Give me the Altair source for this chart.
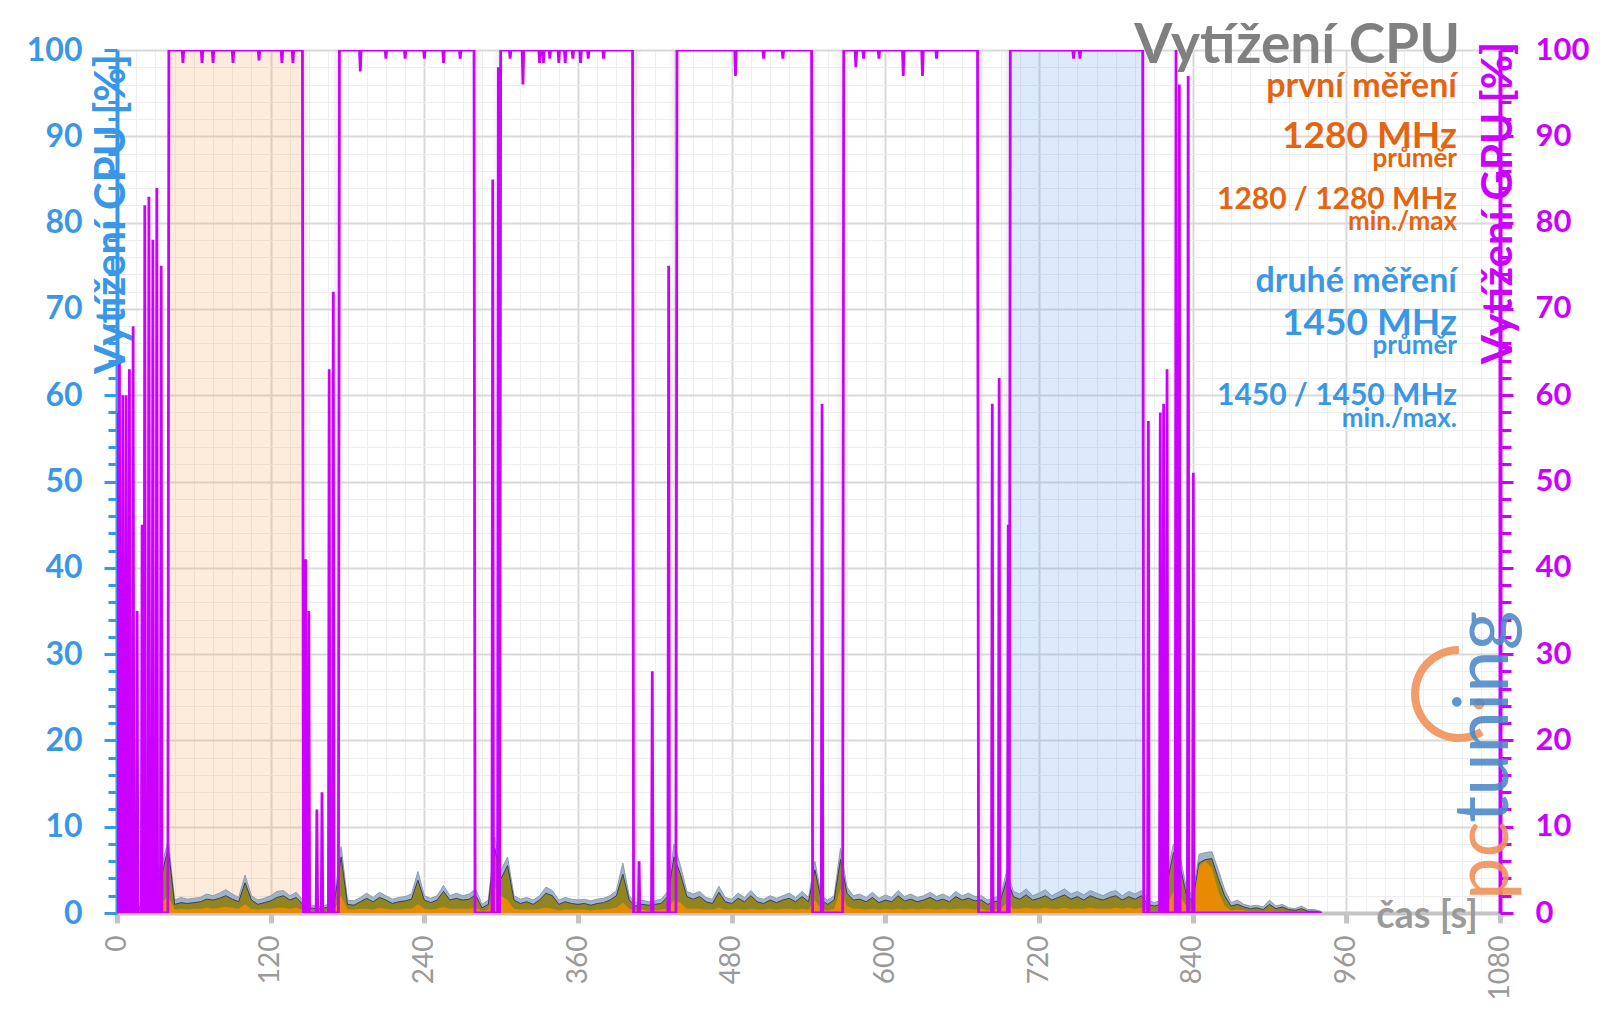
import altair as alt
import pandas as pd

# ---------------- data ----------------
# CPU load samples (every 5 s), three overlaid series
cpu_t = list(range(0, 941, 5))
cpu_top = [
    2.0, 1.5, 2.0, 1.0, 1.2, 1.5, 5.0, 5.5, 8.5, 1.5, 1.8, 1.6,
    1.7, 1.8, 2.2, 2.0, 2.3, 2.7, 2.2, 1.8, 4.4, 2.0, 1.5, 1.7,
    2.0, 2.5, 2.6, 2.0, 2.4, 1.5, 1.0, 0.8, 0.8, 1.0, 2.0, 7.7,
    1.5, 1.4, 1.8, 2.3, 1.8, 2.4, 2.0, 1.6, 1.8, 1.9, 2.2, 4.8,
    2.0, 1.7, 2.0, 3.2, 2.0, 2.3, 2.0, 2.2, 2.8, 1.0, 1.5, 8.8,
    5.0, 6.5, 2.0, 1.6, 1.8, 1.5, 2.0, 3.0, 2.6, 1.5, 1.8, 1.6,
    1.5, 1.6, 1.4, 1.6, 1.7, 2.0, 2.6, 5.8, 2.0, 1.2, 1.5, 1.3,
    1.4, 1.6, 2.5, 8.0, 5.5, 2.5, 2.2, 2.5, 1.8, 1.6, 3.1, 1.8,
    1.6, 2.3, 1.8, 2.6, 1.8, 1.6, 2.0, 1.7, 2.0, 2.3, 1.8, 2.5,
    1.8, 6.0, 2.0, 1.5, 2.0, 7.5, 3.0, 2.0, 2.2, 1.8, 2.4, 1.7,
    2.1, 1.8, 2.6, 1.9, 2.2, 1.8, 2.0, 2.4, 1.9, 2.2, 1.8, 2.5,
    2.0, 2.3, 1.9, 2.0, 1.5, 1.8, 2.0, 5.0, 2.5, 2.2, 2.8, 2.0,
    2.3, 2.7, 2.0, 2.4, 2.8, 2.2, 2.5, 2.1, 2.6, 2.3, 2.0, 2.4,
    2.6, 2.0, 2.5, 2.2, 2.6, 1.5, 1.2, 1.5, 4.5, 8.0, 6.7, 3.0,
    2.0, 6.8, 7.0, 7.1, 5.0, 2.7, 1.2, 1.5, 1.0, 0.8, 0.9, 0.7,
    1.5, 0.8, 1.0, 0.6, 0.5, 0.8, 0.4, 0.4, 0.2,
]
cpu_mid = [
    1.4, 1.0, 1.5, 0.6, 0.8, 1.0, 3.8, 4.5, 7.5, 1.0, 1.2, 1.1,
    1.2, 1.3, 1.6, 1.5, 1.7, 2.0, 1.6, 1.3, 3.5, 1.5, 1.0, 1.2,
    1.4, 1.8, 2.0, 1.5, 1.8, 1.0, 0.6, 0.5, 0.5, 0.7, 1.5, 6.5,
    1.0, 0.9, 1.3, 1.7, 1.3, 1.8, 1.5, 1.1, 1.3, 1.4, 1.6, 3.8,
    1.5, 1.2, 1.5, 2.5, 1.5, 1.7, 1.5, 1.6, 2.1, 0.6, 1.0, 7.5,
    4.0, 5.5, 1.5, 1.1, 1.3, 1.0, 1.5, 2.3, 2.0, 1.0, 1.3, 1.1,
    1.0, 1.1, 0.9, 1.1, 1.2, 1.5, 2.0, 4.5, 1.5, 0.8, 1.0, 0.9,
    1.0, 1.1, 1.9, 6.5, 4.5, 1.9, 1.6, 1.9, 1.3, 1.1, 2.4, 1.3,
    1.1, 1.7, 1.3, 2.0, 1.3, 1.1, 1.5, 1.2, 1.5, 1.7, 1.3, 1.9,
    1.3, 5.0, 1.5, 1.0, 1.5, 6.2, 2.3, 1.5, 1.6, 1.3, 1.8, 1.2,
    1.5, 1.3, 2.0, 1.4, 1.6, 1.3, 1.5, 1.8, 1.4, 1.6, 1.3, 1.9,
    1.5, 1.7, 1.4, 1.5, 1.0, 1.3, 1.5, 4.0, 1.9, 1.6, 2.1, 1.5,
    1.7, 2.0, 1.5, 1.8, 2.1, 1.6, 1.9, 1.5, 2.0, 1.7, 1.5, 1.8,
    2.0, 1.5, 1.9, 1.6, 2.0, 1.0, 0.8, 1.0, 3.5, 7.0, 5.5, 2.2,
    1.4, 5.8, 6.2, 6.3, 4.0, 2.0, 0.8, 1.0, 0.7, 0.5, 0.6, 0.4,
    1.0, 0.5, 0.7, 0.4, 0.3, 0.5, 0.2, 0.2, 0.1,
]
cpu_low = [
    0.5, 0.4, 0.5, 0.3, 0.3, 0.4, 1.0, 1.2, 2.0, 0.4, 0.5, 0.4,
    0.5, 0.5, 0.6, 0.5, 0.6, 0.7, 0.6, 0.5, 1.0, 0.5, 0.4, 0.5,
    0.5, 0.6, 0.6, 0.5, 0.6, 0.4, 0.2, 0.2, 0.2, 0.3, 0.5, 2.0,
    0.4, 0.4, 0.5, 0.5, 0.4, 0.6, 0.5, 0.4, 0.4, 0.5, 0.5, 1.0,
    0.5, 0.4, 0.5, 0.7, 0.5, 0.5, 0.5, 0.5, 0.6, 0.2, 0.4, 3.0,
    2.0, 1.5, 0.5, 0.4, 0.4, 0.4, 0.5, 0.6, 0.5, 0.3, 0.4, 0.4,
    0.4, 0.4, 0.3, 0.4, 0.4, 0.5, 0.6, 1.2, 0.5, 0.3, 0.4, 0.3,
    0.3, 0.4, 0.5, 1.5, 1.2, 0.5, 0.5, 0.5, 0.4, 0.4, 0.6, 0.4,
    0.4, 0.5, 0.4, 0.5, 0.4, 0.4, 0.5, 0.4, 0.5, 0.5, 0.4, 0.5,
    0.4, 1.5, 0.5, 0.3, 0.5, 2.8, 0.8, 0.5, 0.5, 0.4, 0.5, 0.4,
    0.5, 0.4, 0.5, 0.4, 0.5, 0.4, 0.5, 0.5, 0.4, 0.5, 0.4, 0.5,
    0.5, 0.5, 0.4, 0.5, 0.3, 0.4, 0.5, 1.2, 0.5, 0.5, 0.6, 0.5,
    0.5, 0.6, 0.5, 0.5, 0.6, 0.5, 0.5, 0.5, 0.6, 0.5, 0.5, 0.5,
    0.6, 0.5, 0.6, 0.5, 0.6, 0.3, 0.2, 0.3, 1.0, 2.5, 2.0, 0.8,
    0.5, 5.5, 6.0, 5.2, 2.5, 0.8, 0.3, 0.4, 0.3, 0.2, 0.2, 0.2,
    0.3, 0.2, 0.2, 0.1, 0.1, 0.1, 0.1, 0.1, 0.0,
]

# GPU load: short spikes, full-load plateaus and small dips in them
gpu_spike_t = [0.3, 1.9, 4.5, 7.1, 9.7, 12.6, 15.7, 19.6, 21.7, 24.9, 28.0, 31.1, 34.5,
               147.3, 149.8, 156.1, 160.1, 165.7, 168.9,
               293.4, 297.8,
               407.7, 418.0, 430.8,
               550.6,
               683.5, 688.9, 696.0,
               805.4, 814.7, 817.3, 820.0, 827.0, 829.6, 836.5, 840.5]
gpu_spike_v = [58, 64, 60, 60, 63, 68, 35, 45, 82, 83, 78, 84, 75,
               41, 35, 12, 14, 63, 72,
               85, 98,
               6, 28, 75,
               59,
               59, 62, 45,
               57, 58, 59, 63, 100, 96, 97, 51]
gpu_on_start = [40.5, 173.7, 299.6, 437.3, 567.5, 697.6]
gpu_on_end = [144.8, 278.8, 402.6, 542.4, 672.0, 801.0]
gpu_dip_t = [51.5, 66.4, 75.0, 90.6, 110.9, 128.8, 137.4,
             190, 210, 225, 240, 255, 268,
             307, 317, 330, 333, 338, 345, 350, 356, 362, 368, 380,
             483, 505, 520,
             577, 583, 595, 614, 629, 640,
             747, 752]
gpu_dip_v = [98.5, 98.5, 98.5, 98.5, 98.8, 98.5, 98.5,
             97.5, 99, 99, 99, 98.5, 99,
             99, 96, 98.5, 98.5, 99, 98.5, 98.5, 99, 98.5, 99, 99,
             97, 99, 99,
             98, 99, 99, 97, 97, 99,
             99, 99]
gpu_last_t = 941

# shaded measurement windows
band_start = [40.3, 697.3]
band_end = [145.3, 801.3]
band_color = ["#f5a05a", "#5b9bea"]

# ---------------- tables ----------------
cpu_df = pd.DataFrame({"t": cpu_t, "top": cpu_top, "mid": cpu_mid, "low": cpu_low})

pts = []
for t, v in zip(gpu_spike_t, gpu_spike_v):
    pts += [(t - 0.6, 0), (t, v), (t + 0.6, 0)]
for a, b in zip(gpu_on_start, gpu_on_end):
    pts += [(a - 0.8, 0), (a, 100), (b, 100), (b + 0.8, 0)]
for t, v in zip(gpu_dip_t, gpu_dip_v):
    pts += [(t - 0.6, 100), (t, v), (t + 0.6, 100)]
pts.append((gpu_last_t, 0))
pts.sort()
gpu_df = pd.DataFrame(pts, columns=["t", "gpu"])

band_df = pd.DataFrame({"a": band_start, "b": band_end, "c": band_color})
shade_out = pd.DataFrame({"a": gpu_on_end, "b": [t + 9 for t in gpu_on_end]})
shade_in = pd.DataFrame({"a": [t - 9 for t in gpu_on_start[1:]], "b": gpu_on_start[1:]})
one = pd.DataFrame({"k": [0]})

# ---------------- style ----------------
W, H = 1383, 863
BLUE = "#3a97e8"
MAG = "#cc00ff"
ORANGE = "#e5640f"
GRAY = "#9a9a9a"
FONT = "Lato"

x_scale = alt.Scale(domain=[0, 1080], nice=False, zero=False)
y_scale = alt.Scale(domain=[0, 100], nice=False)

x_axis = alt.Axis(
    values=list(range(0, 1081, 15)),
    labelExpr="datum.value % 120 == 0 ? format(datum.value, 'd') : ''",
    labelAngle=-90, labelFont=FONT, labelFontSize=28, labelColor=GRAY,
    labelPadding=12, labelOverlap=False, labelFlush=False, labelBound=False,
    domainColor="#c4c4c4", domainWidth=4,
    tickColor="#c4c4c4", tickWidth=5,
    tickSize={"condition": {"test": "datum.value % 120 == 0", "value": 10}, "value": 0},
    gridColor={"condition": {"test": "datum.value % 120 == 0", "value": "#d9d9d9"}, "value": "#eeeeee"},
    gridWidth={"condition": {"test": "datum.value % 120 == 0", "value": 2}, "value": 1},
    title=None,
)

cpu_axis = alt.Axis(
    values=list(range(0, 101, 2)),
    labelExpr="datum.value % 10 == 0 ? format(datum.value, 'd') : ''",
    labelFont=FONT, labelFontSize=32, labelFontWeight="bold", labelColor=BLUE,
    labelPadding=22, labelOverlap=False, labelFlush=False, labelBound=False,
    domainColor=BLUE, domainWidth=4, tickColor=BLUE, tickWidth=3,
    tickSize={"condition": {"test": "datum.value % 10 == 0", "value": 13}, "value": 9},
    gridColor={"condition": {"test": "datum.value % 10 == 0", "value": "#d9d9d9"}, "value": "#eeeeee"},
    gridWidth={"condition": {"test": "datum.value % 10 == 0", "value": 2}, "value": 1},
    title=None,
)

gpu_axis = alt.Axis(
    orient="right",
    values=list(range(0, 101, 2)),
    labelExpr="datum.value % 10 == 0 ? format(datum.value, 'd') : ''",
    labelFont=FONT, labelFontSize=31, labelFontWeight="bold", labelColor=MAG,
    labelPadding=22, labelOverlap=False, labelFlush=False, labelBound=False,
    domainColor=MAG, domainWidth=4, tickColor=MAG, tickWidth=3,
    tickSize={"condition": {"test": "datum.value % 10 == 0", "value": 13}, "value": 11},
    grid=False, title=None,
)

X = alt.X("t:Q", scale=x_scale, axis=x_axis)

bands = alt.Chart(band_df).mark_rect(opacity=0.21).encode(
    x=alt.X("a:Q", scale=x_scale, axis=x_axis), x2="b:Q",
    y=alt.value(0), y2=alt.value(H),
    color=alt.Color("c:N", scale=None),
)

grad_out = alt.LinearGradient(gradient="linear", x1=0, x2=1, y1=0, y2=0, stops=[
    alt.GradientStop(color="rgba(170,170,170,0.35)", offset=0),
    alt.GradientStop(color="rgba(255,255,255,0)", offset=1)])
grad_in = alt.LinearGradient(gradient="linear", x1=0, x2=1, y1=0, y2=0, stops=[
    alt.GradientStop(color="rgba(255,255,255,0)", offset=0),
    alt.GradientStop(color="rgba(170,170,170,0.3)", offset=1)])
shadow_out = alt.Chart(shade_out).mark_rect(color=grad_out).encode(
    x=alt.X("a:Q", scale=x_scale, axis=x_axis), x2="b:Q",
    y=alt.value(0), y2=alt.value(H))
shadow_in = alt.Chart(shade_in).mark_rect(color=grad_in).encode(
    x=alt.X("a:Q", scale=x_scale, axis=x_axis), x2="b:Q",
    y=alt.value(0), y2=alt.value(H))

top = alt.Chart(cpu_df).mark_area(color="#98abc4", opacity=0.9,
                                  line={"color": "#8c9cb0", "strokeWidth": 1}).encode(
    x=X, y=alt.Y("top:Q", scale=y_scale, axis=cpu_axis))
mid = alt.Chart(cpu_df).mark_area(color="#8f7f10", opacity=0.9,
                                  line={"color": "#34405e", "strokeWidth": 1}).encode(
    x=X, y=alt.Y("mid:Q", scale=y_scale, axis=cpu_axis))
low = alt.Chart(cpu_df).mark_area(color="#f08c00", opacity=0.9).encode(
    x=X, y=alt.Y("low:Q", scale=y_scale, axis=cpu_axis))
cpu = alt.layer(top, mid, low)

gpu = alt.Chart(gpu_df).mark_line(color=MAG, strokeWidth=2.8, clip=True).encode(
    x=X, y=alt.Y("gpu:Q", scale=y_scale, axis=gpu_axis))


def txt(s, x, y, size, color, align="right", baseline="alphabetic", angle=0, weight="bold", opacity=1.0):
    return alt.Chart(one).mark_text(
        text=s, align=align, baseline=baseline, angle=angle, font=FONT,
        fontSize=size, fontWeight=weight, color=color, opacity=opacity,
    ).encode(x=alt.value(x), y=alt.value(y))


texts = [
    txt("Vytížení CPU", 1343, 13, 55, "#808080"),
    txt("první měření", 1340, 47, 34, ORANGE),
    txt("1280 MHz", 1340, 98, 37, ORANGE),
    txt("průměr", 1340, 117, 26, ORANGE),
    txt("1280 / 1280 MHz", 1340, 159, 30, ORANGE),
    txt("min./max", 1340, 180, 26, ORANGE),
    txt("druhé měření", 1340, 242, 34, BLUE),
    txt("1450 MHz", 1340, 285, 37, BLUE),
    txt("průměr", 1340, 304, 26, BLUE),
    txt("1450 / 1450 MHz", 1340, 355, 30, BLUE),
    txt("min./max.", 1340, 377, 26, BLUE),
    txt("Vytížení CPU [%]", 8, 164, 42, BLUE, align="center", angle=270),
    txt("Vytížení GPU [%]", 1395, 153, 42, MAG, align="center", angle=270),
    txt("čas [s]", 1361, 867, 38, GRAY, baseline="middle"),
    # watermark logo
    txt("pc", 1391, 850, 76, "#f0915a", align="left", angle=270, weight="normal", opacity=0.9),
    txt("tuning", 1391, 773, 76, "#4f8ac8", align="left", angle=270, weight="normal", opacity=0.9),
]

ring = alt.Chart(one).mark_arc(radius=48, radius2=40, theta=2.6, theta2=6.28,
                               color="#f0915a", opacity=0.9).encode(
    x=alt.value(1342), y=alt.value(644))
dot = alt.Chart(one).mark_point(filled=True, size=120, color="#f0915a", opacity=0.9).encode(
    x=alt.value(1362), y=alt.value(654))

chart = alt.layer(bands, shadow_out, shadow_in, cpu, gpu, ring, dot, *texts).resolve_scale(
    y="independent").properties(
    width=W, height=H,
    autosize=alt.AutoSizeParams(type="none"),
    padding={"left": 109, "top": 42, "right": 92, "bottom": 86},
).configure_view(stroke=None).configure(background="white")

chart.save("out.html", embed_options={"renderer": "svg", "actions": False})
